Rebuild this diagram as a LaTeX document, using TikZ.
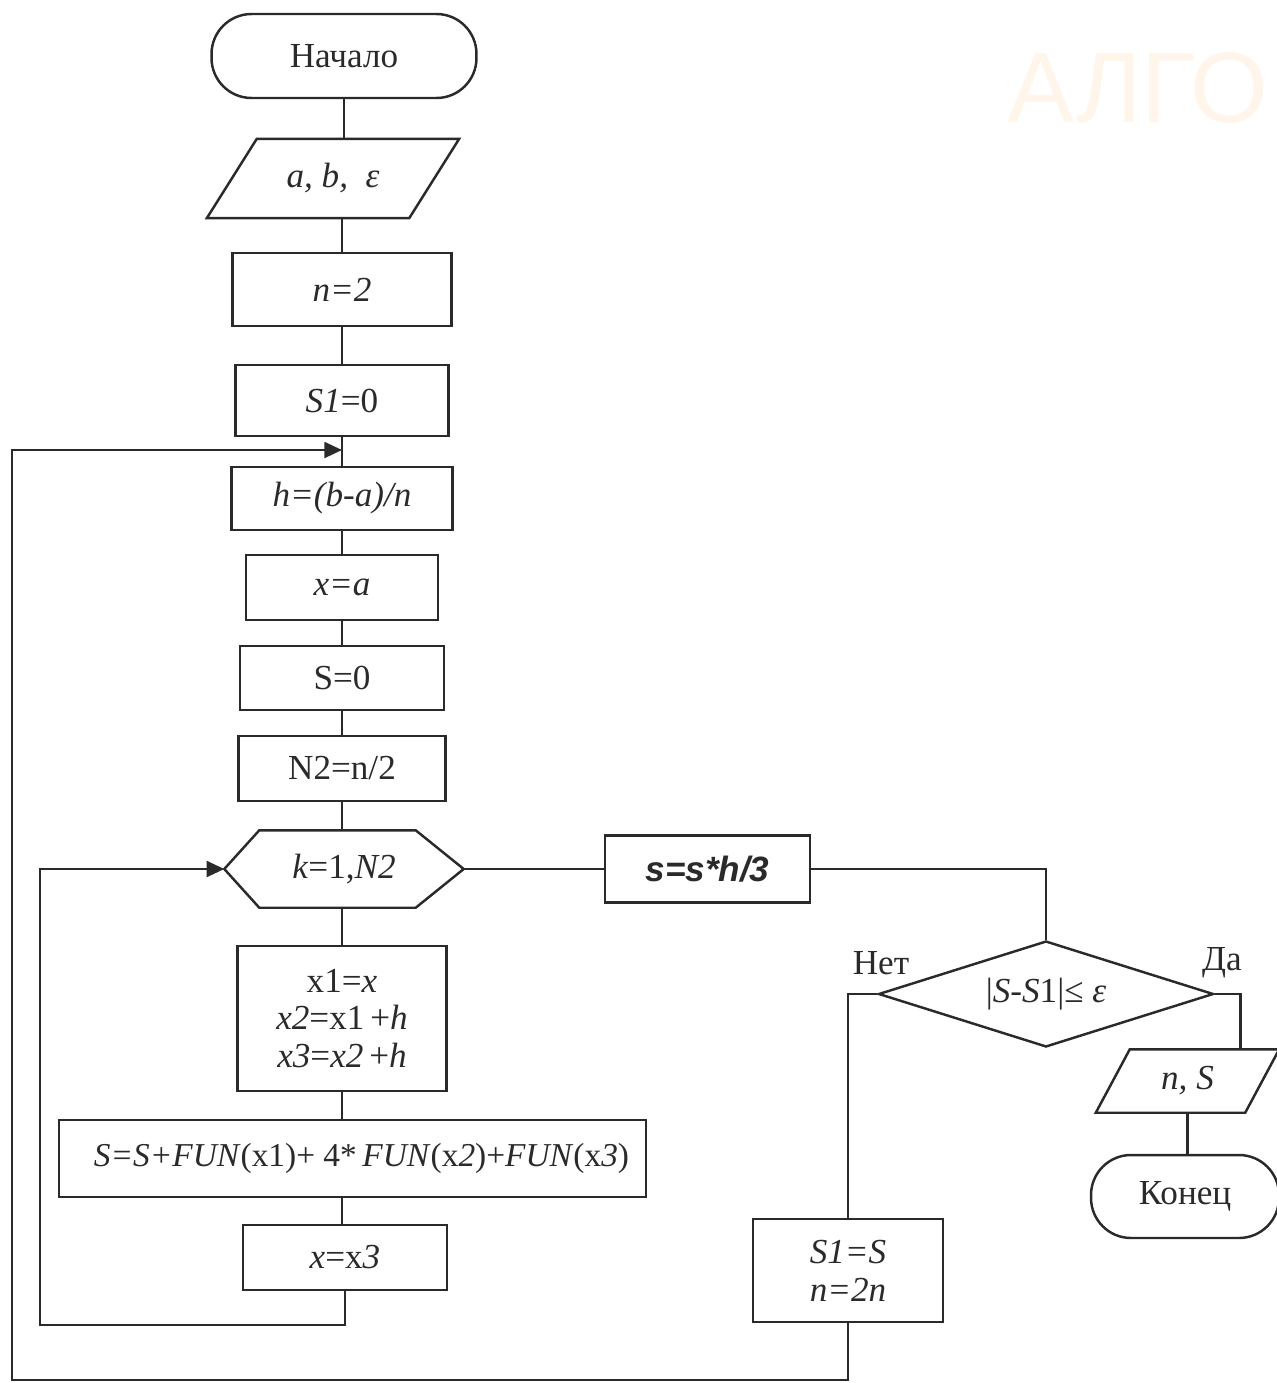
\documentclass[tikz,border=0pt]{standalone}
\usepackage{fontspec}
\setmainfont{Liberation Serif}
\newfontfamily\sansf{Liberation Sans}
\usepackage{tikz}
\usetikzlibrary{positioning,arrows.meta,calc,shapes.geometric}
\definecolor{ink}{HTML}{2A2A2A}
\definecolor{wmark}{HTML}{FFF5EB}
\newcommand{\ioshape}[2]{\draw ($(#1.north west)+(#2,0)$) -- (#1.north east) -- ($(#1.south east)+(-#2,0)$) -- (#1.south west) -- cycle;}

\begin{document}
\begin{tikzpicture}[x=0.02cm,y=-0.02cm,line width=1.4pt,color=ink,
  every node/.style={font=\fontsize{20}{24}\selectfont,text=ink,inner sep=0pt},
  blok/.style={draw,rectangle,align=center},
  term/.style={draw,rectangle,rounded corners=0.8cm},
  arr/.style={-{Triangle[length=10pt,width=9pt]}}]
  \useasboundingbox (0,0) rectangle (1276,1383);
  \node[text=wmark,font=\sansf\fontsize{57}{60}\selectfont] (wm) at (1138,88) {АЛГО};

  \node[term,minimum width=5.3cm,minimum height=1.68cm] (start) at (344,56) {Начало};
  \node[minimum width=5cm,minimum height=1.54cm] (inp) at (333,178.5) {\textit{a, b,\ \ ε}};
  \ioshape{inp}{50}
  \node[blok,minimum width=4.38cm,minimum height=1.46cm] (n2) at (342,289.5) {\textit{n=2}};
  \node[blok,minimum width=4.26cm,minimum height=1.42cm] (s1) at (342,400.5) {\textit{S1}=0};
  \coordinate (j1) at (342,450);
  \node[blok,minimum width=4.42cm,minimum height=1.26cm] (h) at (342,498.5) {\textit{h=(b-a)/n}};
  \node[blok,minimum width=3.84cm,minimum height=1.3cm] (xa) at (342,587.5) {\textit{x=a}};
  \node[blok,minimum width=4.08cm,minimum height=1.28cm] (s0) at (342,678) {S=0};
  \node[blok,minimum width=4.14cm,minimum height=1.3cm] (half) at (342,768.5) {N2=n/2};
  \node[minimum width=4.74cm,minimum height=1.5cm] (cyc) at (344,869) {\textit{k}=1,\textit{N2}};
  \draw (cyc.west) -- ($(cyc.north west)+(35,0)$) -- ($(cyc.north east)+(-48,0)$) -- (cyc.east)
    -- ($(cyc.south east)+(-48,0)$) -- ($(cyc.south west)+(35,0)$) -- cycle;
  \node[blok,minimum width=4.18cm,minimum height=2.9cm,font=\fontsize{20}{21.5}\selectfont] (xs) at (342,1018.5)
    {x1=\textit{x}\\\textit{x2}=x1\,+\textit{h}\\\textit{x3}=\textit{x2}\,+\textit{h}};
  \node[blok,minimum width=11.74cm,minimum height=1.54cm,font=\fontsize{19}{22}\selectfont] (sum) at (352.5,1158.5)
    {\hspace*{0.36cm}\textit{S=S+FUN}(x1)+ 4*\,\textit{FUN}(x\textit{2})+\textit{FUN}(x\textit{3})};
  \node[blok,minimum width=4.08cm,minimum height=1.3cm] (xx3) at (345,1257.5) {\textit{x}=x\textit{3}};
  \coordinate (inner) at (40,1325);

  \node[blok,minimum width=4.1cm,minimum height=1.34cm] (simp) at (707.5,869) {\sansf\bfseries\itshape s=s*h/3};
  \node[draw,diamond,aspect=3.2,minimum width=6.7cm,minimum height=2.12cm] (chk) at (1046,994) {|\textit{S-S}1|≤\ \textit{ε}};
  \node (no) at (881,963) {Нет};
  \node (yes) at (1222,963) {Да};
  \node[blok,minimum width=3.8cm,minimum height=2.06cm,font=\fontsize{20}{21.5}\selectfont] (upd) at (848,1270.5)
    {\textit{S1=S}\\\textit{n=2n}};
  \coordinate (outer) at (12,1380);
  \node[minimum width=3.62cm,minimum height=1.22cm] (outp) at (1187.5,1081) {\textit{n, S}};
  \ioshape{outp}{34}
  \node[term,minimum width=3.76cm,minimum height=1.66cm] (fin) at (1185,1196.5) {Конец};

  \draw (start.south) -- (start.south |- inp.north);
  \draw (n2.north |- inp.south) -- (n2);
  \draw (n2) -- (s1);
  \draw (s1) -- (h);
  \draw (h) -- (xa);
  \draw (xa) -- (s0);
  \draw (s0) -- (half);
  \draw (half) -- (half |- cyc.north);
  \draw (xs |- cyc.south) -- (xs);
  \draw (xs) -- (xs |- sum.north);
  \draw (xs |- sum.south) -- (xs |- xx3.north);
  \draw[arr] (xx3.south) |- (inner) |- (cyc.west);
  \draw (cyc.east) -- (simp.west);
  \draw (simp.east) -| (chk.north);
  \draw (chk.west) -| (upd.north);
  \draw (chk.east) -| ([xshift=1.06cm]outp.north);
  \draw (outp.south) -- (outp.south |- fin.north);
  \draw[arr] (upd.south) |- (outer) |- (j1);
\end{tikzpicture}
\end{document}
